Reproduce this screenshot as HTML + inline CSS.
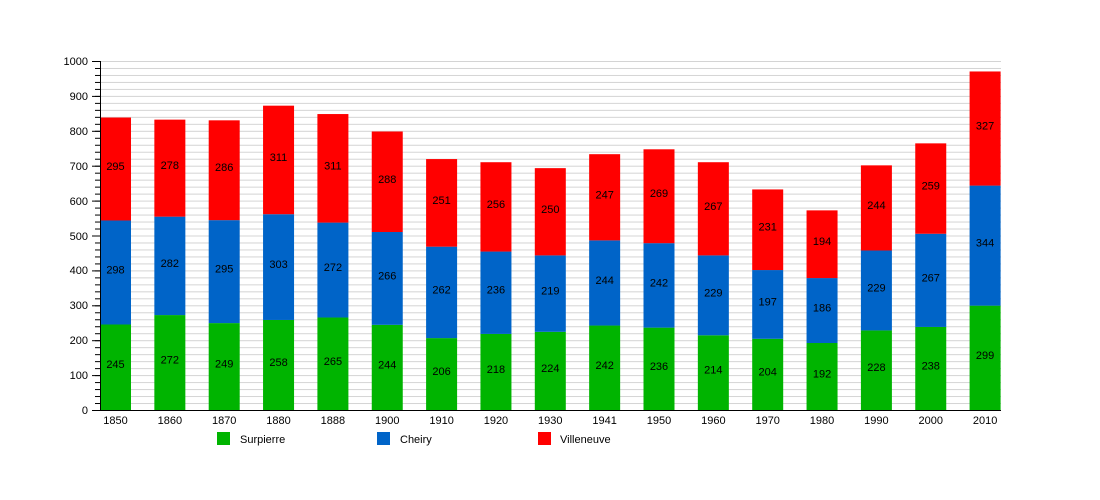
<!DOCTYPE html>
<html><head><meta charset="utf-8"><style>body{margin:0;background:#fff}svg{display:block;font-family:"Liberation Sans",sans-serif}</style></head><body>
<svg width="1100" height="500" viewBox="0 0 1100 500">
<defs>
<pattern id="g" patternUnits="userSpaceOnUse" x="0" y="410" width="1100" height="6.98"><line x1="0" y1="0.5" x2="1100" y2="0.5" stroke="#d4d4d4" stroke-width="1"/></pattern>
<pattern id="t" patternUnits="userSpaceOnUse" x="0" y="410" width="10" height="6.98"><line x1="0" y1="0.5" x2="10" y2="0.5" stroke="#000" stroke-width="1"/></pattern>
</defs>
<rect x="100" y="61" width="901" height="349" fill="url(#g)"/>
<rect x="95" y="61" width="5" height="349" fill="url(#t)"/>
<g stroke="#000" stroke-width="1">
<line x1="92" y1="410.5" x2="100" y2="410.5"/><line x1="92" y1="375.6" x2="100" y2="375.6"/><line x1="92" y1="340.7" x2="100" y2="340.7"/><line x1="92" y1="305.8" x2="100" y2="305.8"/><line x1="92" y1="270.9" x2="100" y2="270.9"/><line x1="92" y1="236" x2="100" y2="236"/><line x1="92" y1="201.1" x2="100" y2="201.1"/><line x1="92" y1="166.2" x2="100" y2="166.2"/><line x1="92" y1="131.3" x2="100" y2="131.3"/><line x1="92" y1="96.4" x2="100" y2="96.4"/><line x1="92" y1="61.5" x2="100" y2="61.5"/>
</g>
<g transform="translate(0,410) scale(1,-0.349)">
<g fill="#00b400">
<rect x="100" y="0" width="31" height="245"/><rect x="154.35" y="0" width="31" height="272"/><rect x="208.7" y="0" width="31" height="249"/><rect x="263.05" y="0" width="31" height="258"/><rect x="317.4" y="0" width="31" height="265"/><rect x="371.75" y="0" width="31" height="244"/><rect x="426.1" y="0" width="31" height="206"/><rect x="480.45" y="0" width="31" height="218"/><rect x="534.8" y="0" width="31" height="224"/><rect x="589.15" y="0" width="31" height="242"/><rect x="643.5" y="0" width="31" height="236"/><rect x="697.85" y="0" width="31" height="214"/><rect x="752.2" y="0" width="31" height="204"/><rect x="806.55" y="0" width="31" height="192"/><rect x="860.9" y="0" width="31" height="228"/><rect x="915.25" y="0" width="31" height="238"/><rect x="969.6" y="0" width="31" height="299"/>
</g>
<g fill="#0064c8">
<rect x="100" y="245" width="31" height="298"/><rect x="154.35" y="272" width="31" height="282"/><rect x="208.7" y="249" width="31" height="295"/><rect x="263.05" y="258" width="31" height="303"/><rect x="317.4" y="265" width="31" height="272"/><rect x="371.75" y="244" width="31" height="266"/><rect x="426.1" y="206" width="31" height="262"/><rect x="480.45" y="218" width="31" height="236"/><rect x="534.8" y="224" width="31" height="219"/><rect x="589.15" y="242" width="31" height="244"/><rect x="643.5" y="236" width="31" height="242"/><rect x="697.85" y="214" width="31" height="229"/><rect x="752.2" y="204" width="31" height="197"/><rect x="806.55" y="192" width="31" height="186"/><rect x="860.9" y="228" width="31" height="229"/><rect x="915.25" y="238" width="31" height="267"/><rect x="969.6" y="299" width="31" height="344"/>
</g>
<g fill="#ff0000">
<rect x="100" y="543" width="31" height="295"/><rect x="154.35" y="554" width="31" height="278"/><rect x="208.7" y="544" width="31" height="286"/><rect x="263.05" y="561" width="31" height="311"/><rect x="317.4" y="537" width="31" height="311"/><rect x="371.75" y="510" width="31" height="288"/><rect x="426.1" y="468" width="31" height="251"/><rect x="480.45" y="454" width="31" height="256"/><rect x="534.8" y="443" width="31" height="250"/><rect x="589.15" y="486" width="31" height="247"/><rect x="643.5" y="478" width="31" height="269"/><rect x="697.85" y="443" width="31" height="267"/><rect x="752.2" y="401" width="31" height="231"/><rect x="806.55" y="378" width="31" height="194"/><rect x="860.9" y="457" width="31" height="244"/><rect x="915.25" y="505" width="31" height="259"/><rect x="969.6" y="643" width="31" height="327"/>
</g>
</g>
<line x1="100.5" y1="61" x2="100.5" y2="411" stroke="#000"/>
<line x1="92" y1="410.5" x2="1001" y2="410.5" stroke="#000"/>
<g font-size="11" text-anchor="end" fill="#000">
<text x="88" y="414">0</text><text x="88" y="379">100</text><text x="88" y="344">200</text><text x="88" y="309">300</text><text x="88" y="274">400</text><text x="88" y="240">500</text><text x="88" y="205">600</text><text x="88" y="170">700</text><text x="88" y="135">800</text><text x="88" y="100">900</text><text x="88" y="65">1000</text>
</g>
<g font-size="11" text-anchor="middle" fill="#000">
<text x="115.5" y="424">1850</text><text x="169.85" y="424">1860</text><text x="224.2" y="424">1870</text><text x="278.55" y="424">1880</text><text x="332.9" y="424">1888</text><text x="387.25" y="424">1900</text><text x="441.6" y="424">1910</text><text x="495.95" y="424">1920</text><text x="550.3" y="424">1930</text><text x="604.65" y="424">1941</text><text x="659" y="424">1950</text><text x="713.35" y="424">1960</text><text x="767.7" y="424">1970</text><text x="822.05" y="424">1980</text><text x="876.4" y="424">1990</text><text x="930.75" y="424">2000</text><text x="985.1" y="424">2010</text>
</g>
<g font-size="11" text-anchor="middle" fill="#000" transform="translate(0,1)">
<text x="115.5" y="367.2">245</text><text x="115.5" y="272.5">298</text><text x="115.5" y="169">295</text>
<text x="169.85" y="362.5">272</text><text x="169.85" y="265.9">282</text><text x="169.85" y="168.1">278</text>
<text x="224.2" y="366.5">249</text><text x="224.2" y="271.6">295</text><text x="224.2" y="170.2">286</text>
<text x="278.55" y="365">258</text><text x="278.55" y="267.1">303</text><text x="278.55" y="159.9">311</text>
<text x="332.9" y="363.8">265</text><text x="332.9" y="270">272</text><text x="332.9" y="168.3">311</text>
<text x="387.25" y="367.4">244</text><text x="387.25" y="278.4">266</text><text x="387.25" y="181.8">288</text>
<text x="441.6" y="374.1">206</text><text x="441.6" y="292.4">262</text><text x="441.6" y="202.9">251</text>
<text x="495.95" y="372">218</text><text x="495.95" y="292.7">236</text><text x="495.95" y="206.9">256</text>
<text x="550.3" y="370.9">224</text><text x="550.3" y="293.6">219</text><text x="550.3" y="211.8">250</text>
<text x="604.65" y="367.8">242</text><text x="604.65" y="283">244</text><text x="604.65" y="197.3">247</text>
<text x="659" y="368.8">236</text><text x="659" y="285.4">242</text><text x="659" y="196.2">269</text>
<text x="713.35" y="372.7">214</text><text x="713.35" y="295.4">229</text><text x="713.35" y="208.8">267</text>
<text x="767.7" y="374.4">204</text><text x="767.7" y="304.4">197</text><text x="767.7" y="229.7">231</text>
<text x="822.05" y="376.5">192</text><text x="822.05" y="310.5">186</text><text x="822.05" y="244.2">194</text>
<text x="876.4" y="370.2">228</text><text x="876.4" y="290.5">229</text><text x="876.4" y="207.9">244</text>
<text x="930.75" y="368.5">238</text><text x="930.75" y="280.3">267</text><text x="930.75" y="188.6">259</text>
<text x="985.1" y="357.8">299</text><text x="985.1" y="245.6">344</text><text x="985.1" y="128.5">327</text>
</g>
<rect x="217" y="432" width="13" height="13" fill="#00b400"/><text x="240" y="443" font-size="11">Surpierre</text>
<rect x="377" y="432" width="13" height="13" fill="#0064c8"/><text x="400" y="443" font-size="11">Cheiry</text>
<rect x="538" y="432" width="13" height="13" fill="#ff0000"/><text x="560" y="443" font-size="11">Villeneuve</text>
</svg>
</body></html>
